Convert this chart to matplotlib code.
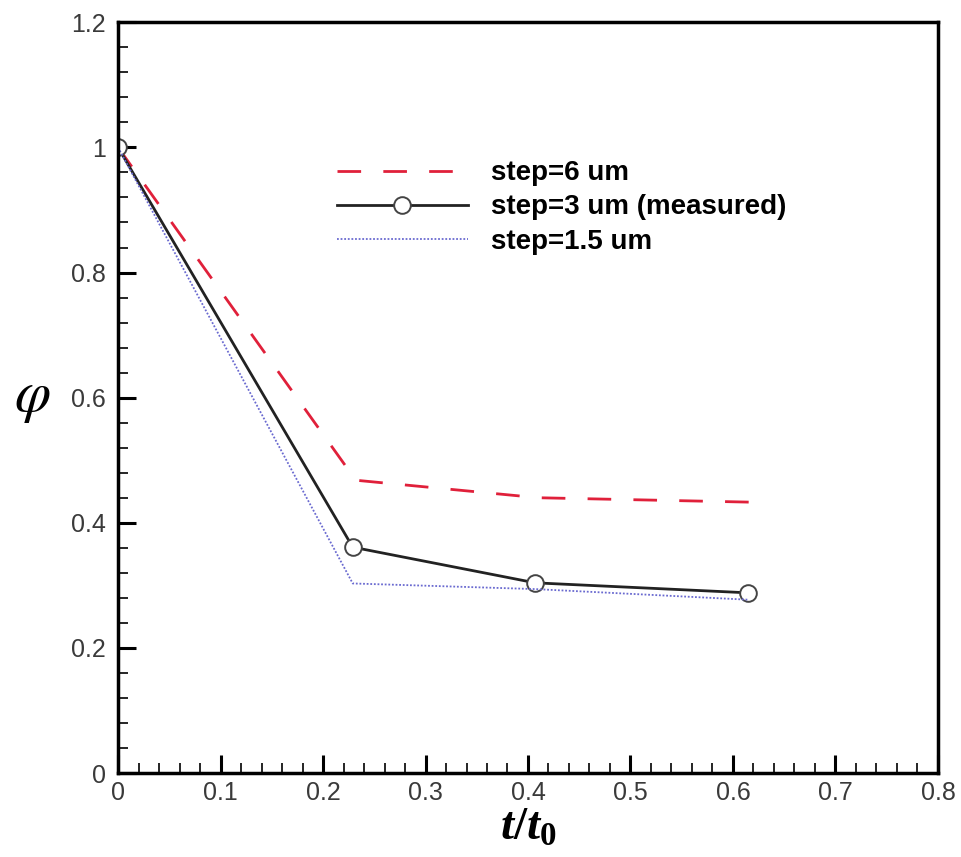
import matplotlib
matplotlib.use("Agg")
import matplotlib.pyplot as plt
from matplotlib.ticker import MultipleLocator

t_red = [0.0, 0.232, 0.41, 0.616]
phi_red = [1.0, 0.468, 0.440, 0.433]

t_black = [0.0, 0.229, 0.407, 0.615]
phi_black = [1.0, 0.361, 0.304, 0.288]

t_blue = [0.0, 0.229, 0.407, 0.615]
phi_blue = [1.0, 0.303, 0.294, 0.277]

labels = ["step=6 um", "step=3 um (measured)", "step=1.5 um"]

plt.rcParams['font.family'] = ['Liberation Sans', 'DejaVu Sans']
plt.rcParams['mathtext.fontset'] = 'custom'
plt.rcParams['mathtext.rm'] = 'Liberation Serif:bold'
plt.rcParams['mathtext.it'] = 'Liberation Serif:bold:italic'
plt.rcParams['mathtext.bf'] = 'Liberation Serif:bold'
plt.rcParams['mathtext.fallback'] = 'stix'

fig = plt.figure(figsize=(9.62, 8.57), dpi=100)
ax = fig.add_axes([0.1227, 0.098, 0.8523, 0.876])

ax.plot(t_red, phi_red, color='#e0203a', lw=2.0, dashes=(8.5, 8), label=labels[0])
ax.plot(t_black, phi_black, color='#222222', lw=2.0, marker='o', ms=12,
        mfc='white', mec='#444444', mew=1.4, label=labels[1])
ax.plot(t_blue, phi_blue, color='#6a6ad0', lw=1.3, ls=(0, (1, 1)), label=labels[2])

ax.set_xlim(0, 0.8)
ax.set_ylim(0, 1.2)
ax.xaxis.set_major_locator(MultipleLocator(0.1))
ax.xaxis.set_minor_locator(MultipleLocator(0.02))
ax.yaxis.set_major_locator(MultipleLocator(0.2))
ax.yaxis.set_minor_locator(MultipleLocator(0.04))

def fmt(v, pos):
    s = f"{v:.1f}"
    if s.endswith(".0"):
        s = s[:-2]
    return s
ax.xaxis.set_major_formatter(plt.FuncFormatter(fmt))
ax.yaxis.set_major_formatter(plt.FuncFormatter(fmt))

ax.tick_params(which='major', direction='in', length=13, width=2.2, labelsize=18,
               labelcolor='#3a3a3a', pad=6)
ax.tick_params(axis='y', which='major', pad=9)
ax.tick_params(which='minor', direction='in', length=7, width=1.2)
for s in ax.spines.values():
    s.set_linewidth(2.5)

ax.set_xlabel(r'$t/t_0$', fontsize=34, labelpad=0)
ax.set_ylabel(r'$\varphi$', fontsize=42, labelpad=28, rotation=0, va='center',
              math_fontfamily='stix')

leg = ax.legend(loc='upper left', bbox_to_anchor=(0.267, 0.816), frameon=False,
                prop={'weight': 'bold', 'size': 20}, handlelength=4.7,
                handletextpad=0.85, labelspacing=0.29, borderpad=0, borderaxespad=0)

fig.savefig("out.png", dpi=100)
